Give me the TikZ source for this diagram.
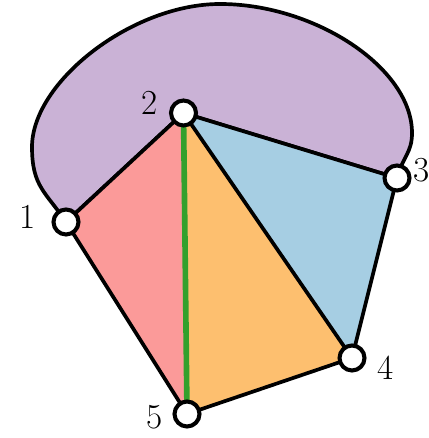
\documentclass[tikz,border=0pt]{standalone}
\usetikzlibrary{calc}
\definecolor{lilac}{HTML}{CAB2D6}
\definecolor{salmon}{HTML}{FB9A99}
\definecolor{apricot}{HTML}{FDBF6F}
\definecolor{skyblue}{HTML}{A6CEE3}
\definecolor{leaf}{HTML}{33A02C}
\tikzset{
    vert/.style={circle, draw, fill=white, line width=2.3pt,
                 minimum size=0.5cm, inner sep=0pt},
    edge/.style={line width=2.1pt, line join=round},
    diag/.style={draw=leaf, line width=3.2pt},
    lbl/.style={font=\fontsize{20}{24}\selectfont, inner sep=0pt},
}

\begin{document}
\begin{tikzpicture}[x=0.02cm, y=0.02cm]
    \path[use as bounding box] (0,0) rectangle (428,438);

    \coordinate (p1) at (66,216);
    \coordinate (p2) at (183.5,325);
    \coordinate (p3) at (397,260);
    \coordinate (p4) at (352,80);
    \coordinate (p5) at (187,24);
    \coordinate (bl) at (32,291);
    \coordinate (bt) at (220,434);
    \coordinate (br) at (412,305);

    \filldraw[fill=lilac, edge] (p1) .. controls +(-20,30) and +(0,-40) .. (bl)
        .. controls +(0,65) and +(-88,0) .. (bt)
        .. controls +(95,0) and +(0,65) .. (br)
        .. controls +(0,-20) and +(6,22) .. (p3) -- (p2) -- cycle;
    \fill[salmon] (p1) -- (p2) -- (p5) -- cycle;
    \fill[apricot] (p2) -- (p4) -- (p5) -- cycle;
    \fill[skyblue] (p2) -- (p3) -- (p4) -- cycle;

    \draw[diag] (p2) -- (p5);
    \draw[edge] (p1) -- (p2) -- (p3) -- (p4) -- (p5) -- cycle;
    \draw[edge] (p2) -- (p4);

    \node[vert] (v1) at (p1) {};
    \node[vert] (v2) at (p2) {};
    \node[vert] (v3) at (p3) {};
    \node[vert] (v4) at (p4) {};
    \node[vert] (v5) at (p5) {};

    \node[lbl] (l1) at (28,221.5) {1};
    \node[lbl] (l2) at (150,335) {2};
    \node[lbl] (l3) at (421.5,268) {3};
    \node[lbl] (l4) at (386,70) {4};
    \node[lbl] (l5) at (155,20.5) {5};
\end{tikzpicture}
\end{document}
